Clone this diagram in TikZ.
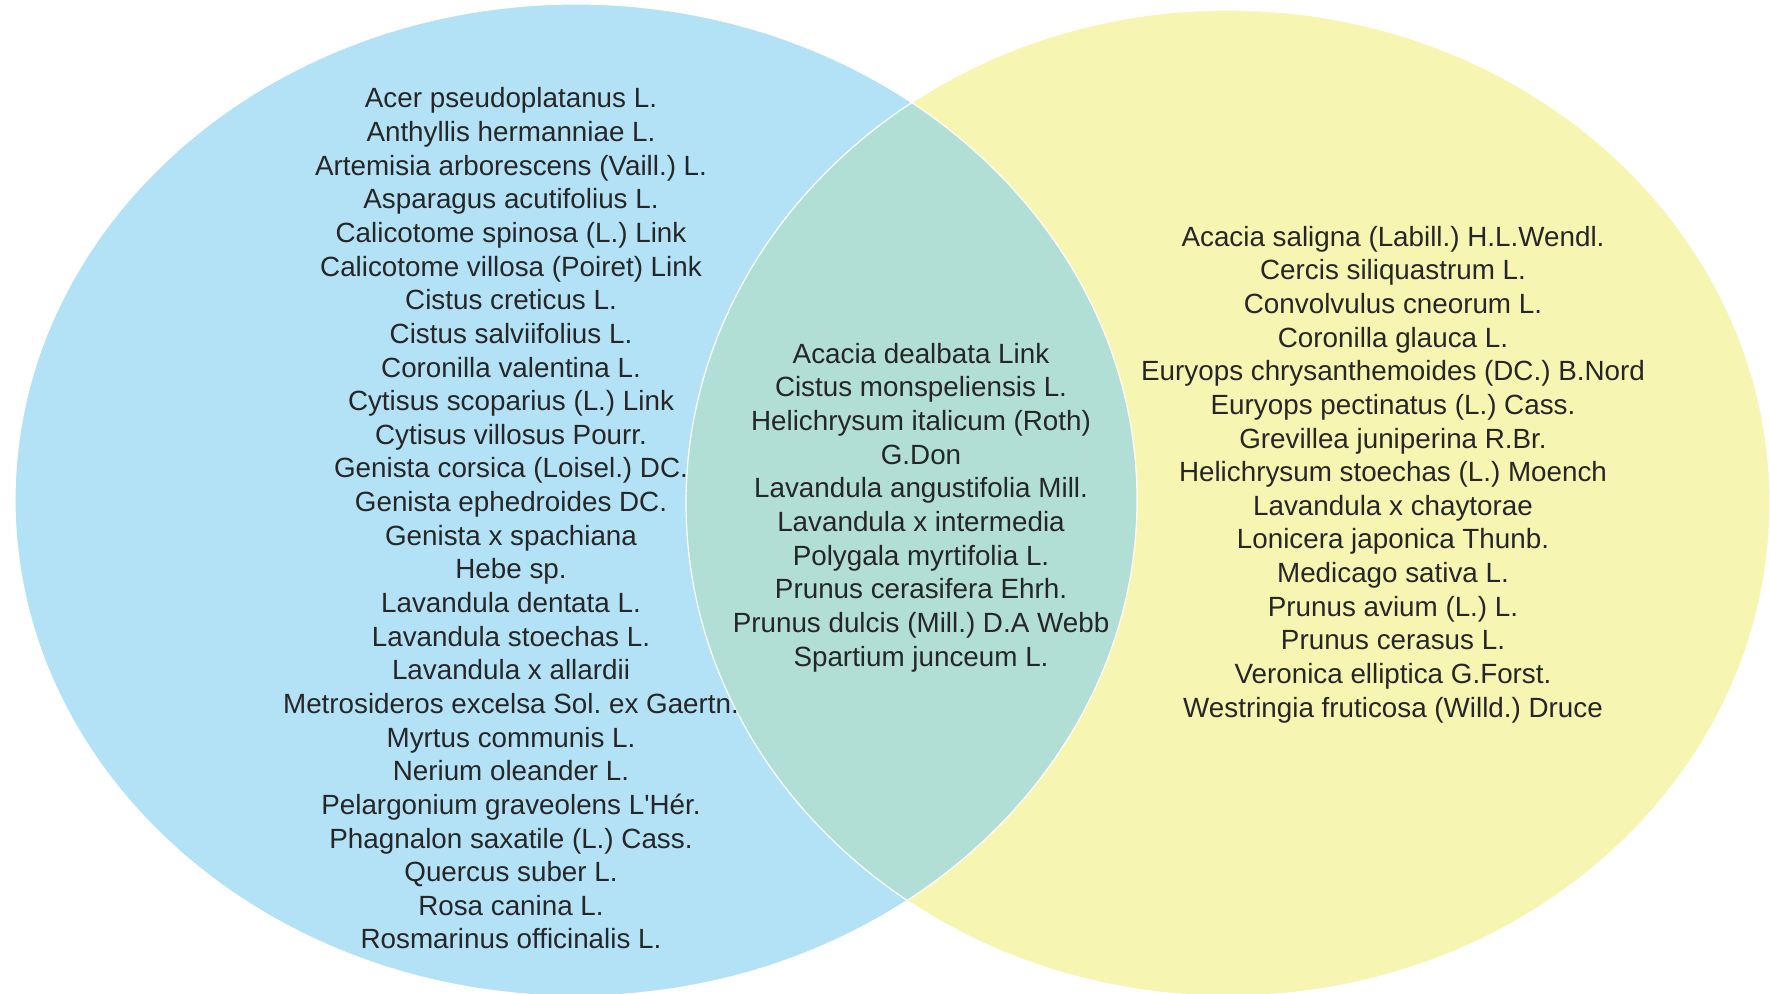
\documentclass[tikz,border=0pt]{standalone}
\usepackage{fontspec}
\setmainfont{Liberation Sans}[Ligatures=TeXOff]
\definecolor{blueC}{HTML}{B3E2F7}
\definecolor{yellowC}{HTML}{F7F5B2}
\definecolor{greenC}{HTML}{B1DED5}
\definecolor{textC}{HTML}{262626}
\frenchspacing
\begin{document}
\begin{tikzpicture}[x=0.5pt,y=-0.5pt,
  lst/.style={align=center, font=\fontsize{13.9pt}{16.82pt}\selectfont, text=textC, inner sep=0pt}]
\useasboundingbox (0,0) rectangle (1770,994);
\fill[blueC] (576,500) ellipse [x radius=280.5pt, y radius=248pt];
\fill[yellowC] (1228,503) ellipse [x radius=271pt, y radius=246.5pt];
\begin{scope}
  \clip (576,500) ellipse [x radius=280.5pt, y radius=248pt];
  \fill[greenC] (1228,503) ellipse [x radius=271pt, y radius=246.5pt];
\end{scope}
\draw[white, line width=0.6pt] (576,500) ellipse [x radius=280.5pt, y radius=248pt];
\draw[white, line width=0.6pt] (1228,503) ellipse [x radius=271pt, y radius=246.5pt];
\node[lst] (left) at (511,518.5) {Acer pseudoplatanus L.\\
Anthyllis hermanniae L.\\
Artemisia arborescens (Vaill.) L.\\
Asparagus acutifolius L.\\
Calicotome spinosa (L.) Link\\
Calicotome villosa (Poiret) Link\\
Cistus creticus L.\\
Cistus salviifolius L.\\
Coronilla valentina L.\\
Cytisus scoparius (L.) Link\\
Cytisus villosus Pourr.\\
Genista corsica (Loisel.) DC.\\
Genista ephedroides DC.\\
Genista x spachiana\\
Hebe sp.\\
Lavandula dentata L.\\
Lavandula stoechas L.\\
Lavandula x allardii\\
Metrosideros excelsa Sol. ex Gaertn.\\
Myrtus communis L.\\
Nerium oleander L.\\
Pelargonium graveolens L'Hér.\\
Phagnalon saxatile (L.) Cass.\\
Quercus suber L.\\
Rosa canina L.\\
Rosmarinus officinalis L.};
\node[lst] (mid) at (921,507.5) {Acacia dealbata Link\\
Cistus monspeliensis L.\\
Helichrysum italicum (Roth)\\
G.Don\\
Lavandula angustifolia Mill.\\
Lavandula x intermedia\\
Polygala myrtifolia L.\\
Prunus cerasifera Ehrh.\\
Prunus dulcis (Mill.) D.A Webb\\
Spartium junceum L.};
\node[lst] (right) at (1393,474.5) {Acacia saligna (Labill.) H.L.Wendl.\\
Cercis siliquastrum L.\\
Convolvulus cneorum L.\\
Coronilla glauca L.\\
Euryops chrysanthemoides (DC.) B.Nord\\
Euryops pectinatus (L.) Cass.\\
Grevillea juniperina R.Br.\\
Helichrysum stoechas (L.) Moench\\
Lavandula x chaytorae\\
Lonicera japonica Thunb.\\
Medicago sativa L.\\
Prunus avium (L.) L.\\
Prunus cerasus L.\\
Veronica elliptica G.Forst.\\
Westringia fruticosa (Willd.) Druce};
\end{tikzpicture}
\end{document}
